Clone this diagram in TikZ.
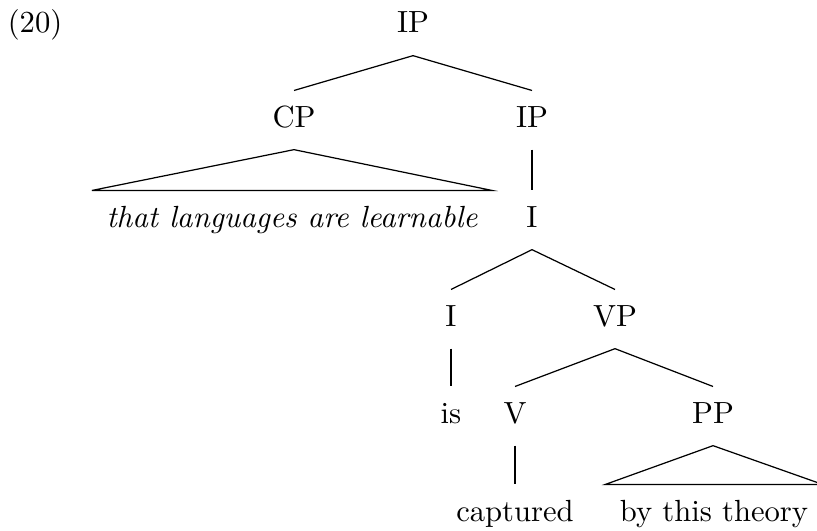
\documentclass[tikz,border=0pt]{standalone}
\usepackage{tikz}
\usetikzlibrary{positioning}

\begin{document}
\begin{tikzpicture}[x=0.3266pt, y=-0.3266pt,
  cat/.style={anchor=base, inner sep=0pt, text height=6.83pt, text depth=0pt},
  wide/.style={cat, inner xsep=4.6pt}]
\useasboundingbox (0,0) rectangle (817,530);
{
\node[cat] (num) at (35,33) {(20)};

\node[cat] (ipTop) at (413,33) {IP};

\node[cat] (cp) at (294,127) {CP};
\node[cat] (ipLow) at (532,127) {IP};

\node[wide] (clause) at (292,227) {\itshape that languages are learnable};
\node[cat] (ibar) at (532,227) {I};

\node[cat] (infl) at (451,326) {I};
\node[cat] (vp) at (615,326) {VP};

\node[cat] (is) at (451,423) {is};
\node[cat] (verb) at (515,423) {V};
\node[cat] (pp) at (713,423) {PP};

\node[cat] (captured) at (515,521) {captured};
\node[wide] (theory) at (714,521) {by this theory};

% branches
{
\draw[black] ([yshift=-7.2pt]ipTop.south) -- ([yshift=4.9pt]cp.north);
\draw[black] ([yshift=-7.2pt]ipTop.south) -- ([yshift=4.9pt]ipLow.north);

\draw[black] ([yshift=-7.2pt]ipLow.south) -- ([yshift=4.9pt]ibar.north);

\draw[black] ([yshift=-7.2pt]ibar.south) -- ([yshift=4.9pt]infl.north);
\draw[black] ([yshift=-7.2pt]ibar.south) -- ([yshift=4.9pt]vp.north);

\draw[black] ([yshift=-7.2pt]infl.south) -- ([yshift=4.9pt]is.north);

\draw[black] ([yshift=-7.2pt]vp.south) -- ([yshift=4.9pt]verb.north);
\draw[black] ([yshift=-7.2pt]vp.south) -- ([yshift=4.9pt]pp.north);

\draw[black] ([yshift=-7.2pt]verb.south) -- ([yshift=4.9pt]captured.north);
}

% triangles
{
\draw[black] ([yshift=-7.2pt]cp.south) -- ([yshift=4.9pt]clause.north east) -- ([yshift=4.9pt]clause.north west) -- cycle;
\draw[black] ([yshift=-7.2pt]pp.south) -- ([yshift=4.9pt]theory.north east) -- ([yshift=4.9pt]theory.north west) -- cycle;
}
}
\end{tikzpicture}
\end{document}
